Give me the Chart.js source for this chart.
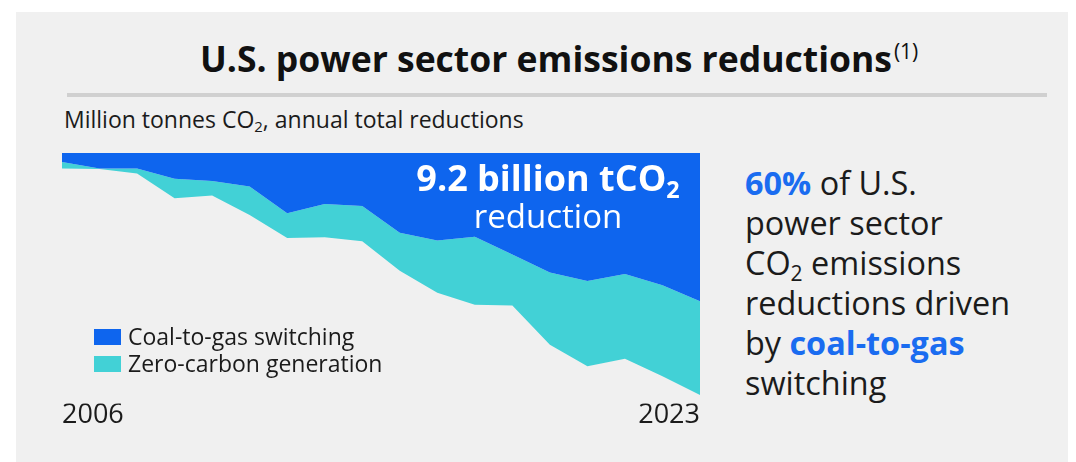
<!DOCTYPE html>
<html>
<head>
<meta charset="utf-8">
<script src="https://cdn.jsdelivr.net/npm/chart.js@4.4.1/dist/chart.umd.min.js"></script>
<style>
    body { margin: 0; background: #fff; font-family: 'Open Sans', sans-serif; color: #1b1b1b; }
    .panel { position: absolute; left: 16px; top: 12px; width: 1052px; height: 450px; background: #f0f0f0; overflow: hidden; }
    .abs { position: absolute; white-space: nowrap; }
    .title { left: 184px; top: 26px; font-size: 35.5px; line-height: 40px; font-weight: 700; color: #111; }
    .title sup { font-size: 21px; font-weight: 400; vertical-align: 13px; line-height: 0; margin-left: 2px; }
    .rule { left: 51px; top: 81px; width: 980px; height: 4px; background: #d0d0d0; }
    .subtitle { left: 48px; top: 95px; font-size: 23px; line-height: 24px; }
    sub { font-size: 0.65em; vertical-align: -0.3em; line-height: 0; }
    .chart-box { position: absolute; left: 46px; top: 141px; width: 638px; height: 275px; }
    .big-label { left: 382px; top: 146px; width: 300px; text-align: center; color: #fff; z-index: 2; }
    .big-label .l1 { font-size: 36px; line-height: 40px; font-weight: 700; }
    .big-label .l2 { font-size: 33px; line-height: 36px; }
    .legend { left: 78px; top: 311px; z-index: 2; font-size: 23px; }
    .legend div { position: relative; height: 27px; line-height: 27px; padding-left: 34px; }
    .legend span.box { position: absolute; left: 0; top: 6px; width: 27px; height: 16px; }
    .callout { left: 729px; top: 150px; font-size: 32.4px; line-height: 40px; }
    .blue { color: #1a6cf0; font-weight: 700; }
</style>
</head>
<body>
<div class="panel">
    <div class="abs title">U.S. power sector emissions reductions<sup>(1)</sup></div>
    <div class="abs rule"></div>
    <div class="abs subtitle">Million tonnes CO<sub>2</sub>, annual total reductions</div>
    <div class="chart-box"><canvas id="emissionsChart"></canvas></div>
    <div class="abs big-label">
        <div class="l1">9.2 billion tCO<sub>2</sub></div>
        <div class="l2">reduction</div>
    </div>
    <div class="abs legend" id="legend"></div>
    <div class="abs callout">
        <span class="blue">60%</span> of U.S.<br>
        power sector<br>
        CO<sub>2</sub> emissions<br>
        reductions driven<br>
        by <span class="blue">coal-to-gas</span><br>
        switching
    </div>
</div>
<script>
// annual reductions, million tonnes CO2
const years = ['2006', '2007', '2008', '2009', '2010', '2011', '2012', '2013', '2014',
    '2015', '2016', '2017', '2018', '2019', '2020', '2021', '2022', '2023'];
const coalToGas = [40, 68, 68, 113, 123, 147, 264, 224, 233, 350, 384, 368, 446, 525, 562, 531, 580, 651];
const zeroCarbon = [28, 2, 22, 86, 64, 125, 109, 146, 154, 167, 229, 298, 223, 317, 374, 372, 400, 411];
const seriesLabels = ['Coal-to-gas switching', 'Zero-carbon generation'];
const seriesColors = ['#0e65ee', '#42d1d6'];
const shownYears = ['2006', '2023'];

const ctx = document.getElementById('emissionsChart').getContext('2d');
const chart = new Chart(ctx, {
    type: 'line',
    data: {
        labels: years,
        datasets: [
            {
                label: seriesLabels[0],
                data: coalToGas,
                backgroundColor: seriesColors[0],
                borderColor: seriesColors[0],
                borderWidth: 0,
                pointRadius: 0,
                fill: 'origin',
                tension: 0
            },
            {
                label: seriesLabels[1],
                data: zeroCarbon,
                backgroundColor: seriesColors[1],
                borderColor: seriesColors[1],
                borderWidth: 0,
                pointRadius: 0,
                fill: '-1',
                tension: 0
            }
        ]
    },
    options: {
        responsive: true,
        maintainAspectRatio: false,
        animation: false,
        layout: { padding: 0 },
        plugins: {
            legend: { display: false },
            tooltip: { enabled: false }
        },
        scales: {
            x: {
                grid: { display: false, drawTicks: false },
                border: { display: false },
                ticks: {
                    autoSkip: false,
                    maxRotation: 0,
                    align: 'inner',
                    padding: -4,
                    color: '#1b1b1b',
                    font: { family: 'Open Sans', size: 27 },
                    callback: (val, i) => shownYears.includes(years[i]) ? years[i] : ''
                }
            },
            y: {
                display: false,
                stacked: true,
                reverse: true,
                min: 0,
                max: 1100
            }
        }
    }
});

// html legend from the datasets
const legendEl = document.getElementById('legend');
chart.data.datasets.forEach(ds => {
    const row = document.createElement('div');
    row.innerHTML = `<span class="box" style="background:${ds.backgroundColor}"></span>${ds.label}`;
    legendEl.appendChild(row);
});
</script>
</body>
</html>
